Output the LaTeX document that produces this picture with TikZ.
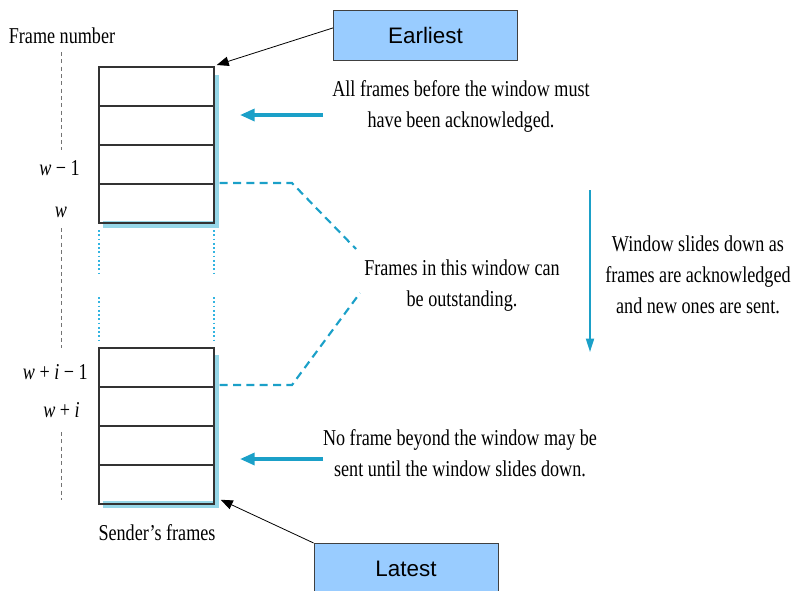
\documentclass[tikz,border=0pt]{standalone}
\usepackage{fontspec}
\setmainfont{Liberation Serif}
\newfontfamily\labelsans{Liberation Sans}
\usetikzlibrary{arrows.meta,calc}
\definecolor{winblue}{RGB}{27,160,200}
\definecolor{shadowblue}{RGB}{150,215,232}
\definecolor{tagfill}{RGB}{153,204,255}
\definecolor{dotblue}{RGB}{50,180,225}
\begin{document}
\begin{tikzpicture}[x=0.75pt,y=-0.75pt,
  frame/.style={draw=black!80, line width=1.3pt, minimum width=86.25pt,
    minimum height=29.25pt, inner sep=0pt, anchor=north west},
  note/.style={font=\fontsize{13.6}{18.6}\selectfont, align=center,
    yscale=1.25, transform shape, inner sep=0pt},
  idx/.style={font=\fontsize{13.6}{16}\selectfont, yscale=1.25,
    transform shape, inner sep=0pt},
  tag/.style={draw=black!75, fill=tagfill, line width=0.6pt,
    minimum width=138pt, minimum height=37.5pt, inner sep=0pt,
    font=\labelsans\fontsize{16.8}{18}\selectfont},
  pointer/.style={-{Triangle[length=9pt,width=7pt]}, line width=0.6pt},
  bluearrow/.style={-{Triangle[length=11pt,width=9pt]}, draw=winblue,
    line width=2.5pt},
  windowedge/.style={draw=winblue, line width=1.6pt, dash pattern=on 6pt off 4pt},
  gapedge/.style={draw=dotblue, line width=1.4pt, dash pattern=on 1.4pt off 1.8pt},
  axis/.style={draw=black!55, line width=0.6pt, dash pattern=on 3pt off 2.5pt},
  shade/.style={fill=shadowblue, draw=none}]
\useasboundingbox (0,0) rectangle (793,590);

% light-blue window shading behind both stacks
\fill[shade] (213,75) rectangle (219,228);
\fill[shade] (103,221) rectangle (219,228);
\fill[shade] (213,355) rectangle (219,508);
\fill[shade] (103,501) rectangle (219,508);

% upper stack of frames
\node[frame] (u1) at (98,66) {};
\node[frame] (u2) at (98,105) {};
\node[frame] (u3) at (98,144) {};
\node[frame] (u4) at (98,183) {};
% lower stack of frames
\node[frame] (l1) at (98,347) {};
\node[frame] (l2) at (98,386) {};
\node[frame] (l3) at (98,425) {};
\node[frame] (l4) at (98,464) {};

% dotted window edges between the stacks
\draw[gapedge] (99,230) -- (99,274);
\draw[gapedge] (99,297) -- (99,340);
\draw[gapedge] (214,230) -- (214,274);
\draw[gapedge] (214,297) -- (214,340);

% frame-number axis
\draw[axis] (61,52) -- (61,150);
\draw[axis] (61,228) -- (61,348);
\draw[axis] (61,432) -- (61,500);

% axis labels
\node[idx] (fn) at (62,36) {Frame number};
\node[idx, anchor=east] (wm1) at (80,168) {\textit{w} − 1};
\node[idx] (w0) at (61,212) {\textit{w}};
\node[idx, anchor=east] (wim1) at (88,372) {\textit{w} + \textit{i} − 1};
\node[idx, anchor=east] (wi) at (80,410) {\textit{w} + \textit{i}};
\node[idx] (sf) at (157,533) {Sender’s frames};

% earliest / latest tags
\node[tag] (earliest) at (425.5,35) {Earliest};
\node[tag, anchor=north] (latest) at (406,543) {Latest};
\draw[pointer] ($(earliest.north west)!0.36!(earliest.south west)$) -- ([shift={(2,-1)}]u1.north east);
\draw[pointer] (latest.north west) -- ([shift={(6,-5)}]l4.south east);

% explanatory notes
\node[note] (ack) at (461,106.5) {All frames before the window must\\have been acknowledged.};
\node[note] (out) at (462,286) {Frames in this window can\\be outstanding.};
\node[note] (slide) at (698,274.5) {Window slides down as\\frames are acknowledged\\and new ones are sent.};
\node[note] (beyond) at (460,453) {No frame beyond the window may be\\sent until the window slides down.};

% blue pointers toward the stacks
\coordinate (ackfrom) at (323,115);
\coordinate (ackto) at (240,115);
\coordinate (beyfrom) at (323,459);
\coordinate (beyto) at (240,459);
\draw[bluearrow] (ackfrom) -- (ackto);
\draw[bluearrow] (beyfrom) -- (beyto);

% dashed bracket marking the sending window
\coordinate (topbend) at (292,183);
\coordinate (topend) at (356,249);
\coordinate (botbend) at (292,385);
\coordinate (botend) at (360,293);
\draw[windowedge] (u4.north east) ++(5,0) -- (topbend) -- (topend);
\draw[windowedge] (l2.north east) ++(5,-1) -- (botbend) -- (botend);

% sliding direction
\coordinate (slidetop) at (590,190);
\coordinate (slidebot) at (590,352);
\draw[-{Triangle[length=10pt,width=6pt]}, draw=winblue, line width=1.3pt] (slidetop) -- (slidebot);
\end{tikzpicture}
\end{document}
